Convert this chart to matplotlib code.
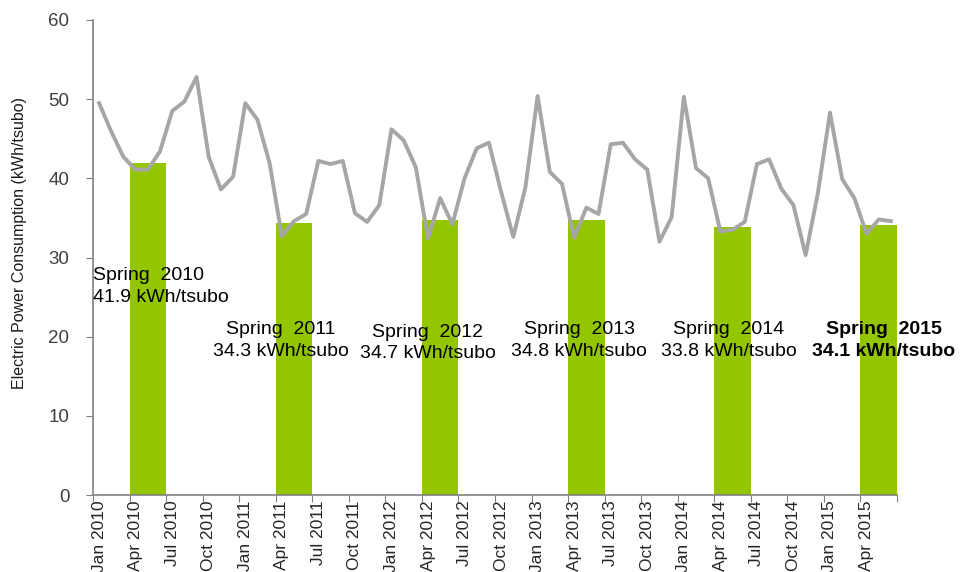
import numpy as np
import matplotlib
matplotlib.use("Agg")
import matplotlib.pyplot as plt
from matplotlib.ticker import FixedLocator, NullFormatter, FixedFormatter

plt.rcParams['font.family'] = ['Liberation Sans', 'DejaVu Sans']

# monthly consumption, Jan 2010 - Jun 2015 (kWh/tsubo)
monthly = [
    49.5, 45.9, 42.7, 41.1, 41.1, 43.4, 48.5, 49.7, 52.8, 42.7, 38.6, 40.2,   # 2010
    49.5, 47.4, 41.9, 32.7, 34.6, 35.5, 42.2, 41.8, 42.2, 35.6, 34.5, 36.6,   # 2011
    46.2, 44.8, 41.4, 32.4, 37.5, 34.2, 40.0, 43.8, 44.5, 38.3, 32.6, 38.9,   # 2012
    50.4, 40.8, 39.3, 32.5, 36.3, 35.5, 44.3, 44.5, 42.4, 41.1, 32.0, 35.1,   # 2013
    50.3, 41.3, 40.0, 33.3, 33.5, 34.5, 41.8, 42.4, 38.7, 36.6, 30.3, 38.1,   # 2014
    48.3, 39.9, 37.5, 33.0, 34.8, 34.6,                                       # 2015
]
month_names = ["Jan", "Feb", "Mar", "Apr", "May", "Jun",
               "Jul", "Aug", "Sep", "Oct", "Nov", "Dec"]
months = [f"{month_names[i % 12]} {2010 + i // 12}" for i in range(len(monthly))]

spring_years = [2010, 2011, 2012, 2013, 2014, 2015]
spring_avg = [41.9, 34.3, 34.7, 34.8, 33.8, 34.1]

green = "#94C600"
grey_line = "#A6A6A6"
axis_col = "#808080"

fig = plt.figure(figsize=(9.62, 5.72), dpi=100)
ax = fig.add_axes([93 / 962, 1 - 495 / 572, 804 / 962, 475 / 572])

x = np.arange(len(monthly))
# spring bars span Apr-Jun, centred on May
bar_x = [(y - 2010) * 12 + 4 for y in spring_years]
ax.bar(bar_x, spring_avg, width=3, color=green, zorder=2)
ax.plot(x, monthly, color=grey_line, lw=2.8, zorder=3)

ax.set_xlim(-0.5, len(monthly) - 0.5)
ax.set_ylim(0, 60)
ax.set_yticks(np.arange(0, 61, 10))

# ticks between categories, labels centred on the month
ax.xaxis.set_major_locator(FixedLocator(np.arange(-0.5, len(monthly), 3)))
ax.xaxis.set_major_formatter(NullFormatter())
lab_pos = np.arange(0, len(monthly), 3)
ax.xaxis.set_minor_locator(FixedLocator(lab_pos))
ax.xaxis.set_minor_formatter(FixedFormatter([months[i] for i in lab_pos]))
ax.tick_params(axis="x", which="major", length=5, color=axis_col, direction="out")
ax.tick_params(axis="x", which="minor", length=0, pad=4, labelsize=12.5,
               labelrotation=90, labelcolor="#262626")
ax.tick_params(axis="y", length=5, color=axis_col, labelsize=13.5,
               labelcolor="#404040", pad=12)

for s in ["top", "right"]:
    ax.spines[s].set_visible(False)
for s in ["left", "bottom"]:
    ax.spines[s].set_color(axis_col)
    ax.spines[s].set_linewidth(1.2)

ax.set_ylabel("Electric Power Consumption (kWh/tsubo)", fontsize=11.5, color="#1a1a1a")
ax.yaxis.set_label_coords(-0.082, 0.53)

# annotation positions (month index, value)
label_pos = [(-0.5, 26.3), (14.9, 19.5), (27.0, 19.2), (39.4, 19.5), (51.7, 19.5), (64.4, 19.5)]
for i, (yr, v) in enumerate(zip(spring_years, spring_avg)):
    px, py = label_pos[i]
    ha = "left" if i == 0 else "center"
    weight = "bold" if yr == 2015 else "normal"
    ax.text(px, py, f"Spring  {yr}\n{v:.1f} kWh/tsubo", ha=ha, va="center",
            fontsize=14, fontweight=weight, color="black", linespacing=1.38,
            zorder=4)

fig.savefig("out.png", dpi=100)
